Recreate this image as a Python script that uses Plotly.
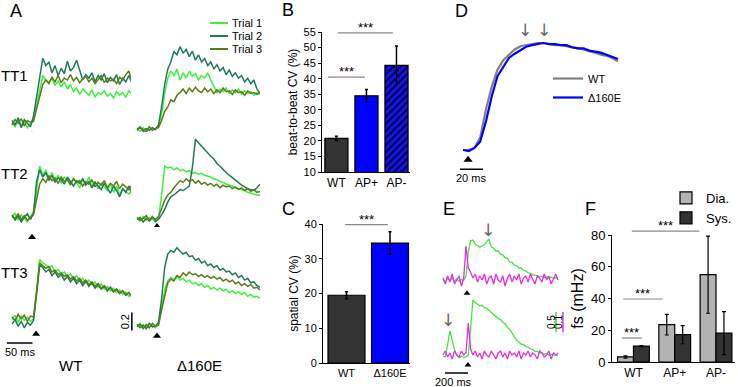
import plotly.graph_objects as go

W, H = 738, 387
FONT = 'Arial, "Liberation Sans", sans-serif'

# ===================== DATA =====================
# Panel A - Ca2+ transients (dF/F) at three t-tubule sites, three trials each
t_A = list(range(0, 241, 6))  # ms
wt_tt1_trial1 = [0.03, -0.02, 0.05, 0.0, 0.04, -0.03, 0.02, 0.06, 0.22, 0.40,
                 0.55, 0.50, 0.47, 0.52, 0.44, 0.49, 0.42, 0.48, 0.40, 0.45,
                 0.37, 0.41, 0.34, 0.40, 0.36, 0.33, 0.39, 0.31, 0.36, 0.34,
                 0.38, 0.32, 0.35, 0.30, 0.37, 0.33, 0.36, 0.31, 0.38, 0.34, 0.40]
wt_tt1_trial2 = [0.05, 0.0, 0.08, -0.03, 0.06, 0.02, -0.02, 0.10, 0.30, 0.55,
                 0.74, 0.66, 0.70, 0.58, 0.66, 0.55, 0.63, 0.57, 0.71, 0.60,
                 0.64, 0.72, 0.60, 0.50, 0.56, 0.52, 0.58, 0.48, 0.55, 0.50,
                 0.57, 0.47, 0.53, 0.49, 0.56, 0.45, 0.52, 0.48, 0.55, 0.46, 0.44]
wt_tt1_trial3 = [0.0, 0.06, 0.02, 0.07, -0.01, 0.05, 0.03, 0.04, 0.18, 0.32,
                 0.45, 0.50, 0.46, 0.53, 0.48, 0.55, 0.47, 0.52, 0.50, 0.56,
                 0.49, 0.53, 0.47, 0.51, 0.54, 0.48, 0.52, 0.46, 0.50, 0.55,
                 0.47, 0.52, 0.49, 0.51, 0.46, 0.53, 0.50, 0.56, 0.60, 0.48, 0.45]
mut_tt1_trial1 = [-0.04, -0.07, -0.03, -0.06, -0.02, -0.05, -0.04, -0.01, 0.12, 0.35,
                  0.52, 0.60, 0.55, 0.62, 0.50, 0.58, 0.52, 0.60, 0.54, 0.57,
                  0.50, 0.55, 0.52, 0.58, 0.50, 0.42, 0.36, 0.40, 0.37, 0.41,
                  0.35, 0.39, 0.36, 0.40, 0.34, 0.38, 0.35, 0.37, 0.33, 0.36, 0.34]
mut_tt1_trial2 = [-0.05, -0.02, -0.07, -0.04, -0.06, -0.03, -0.05, 0.0, 0.20, 0.45,
                  0.62, 0.70, 0.82, 0.78, 0.87, 0.80, 0.84, 0.76, 0.82, 0.72,
                  0.78, 0.70, 0.74, 0.66, 0.70, 0.62, 0.67, 0.60, 0.64, 0.56,
                  0.61, 0.54, 0.58, 0.52, 0.55, 0.48, 0.52, 0.46, 0.50, 0.40, 0.35]
mut_tt1_trial3 = [-0.06, -0.03, -0.05, -0.08, -0.02, -0.06, -0.04, -0.03, 0.05, 0.15,
                  0.20, 0.28, 0.26, 0.33, 0.36, 0.40, 0.35, 0.41, 0.37, 0.42,
                  0.38, 0.36, 0.41, 0.37, 0.40, 0.35, 0.39, 0.36, 0.41, 0.37,
                  0.38, 0.34, 0.39, 0.36, 0.37, 0.33, 0.38, 0.35, 0.36, 0.34, 0.36]
wt_tt2_trial1 = [0.05, 0.10, 0.02, 0.08, 0.04, 0.0, 0.06, 0.12, 0.35, 0.62,
                 0.52, 0.58, 0.48, 0.55, 0.45, 0.52, 0.43, 0.50, 0.46, 0.41,
                 0.49, 0.44, 0.38, 0.47, 0.42, 0.50, 0.40, 0.45, 0.37, 0.43,
                 0.39, 0.35, 0.42, 0.33, 0.40, 0.30, 0.37, 0.34, 0.31, 0.36, 0.33]
wt_tt2_trial2 = [0.08, 0.02, 0.07, 0.0, 0.05, 0.09, 0.03, 0.10, 0.45, 0.58,
                 0.50, 0.55, 0.46, 0.52, 0.44, 0.49, 0.47, 0.42, 0.50, 0.45,
                 0.40, 0.46, 0.43, 0.48, 0.41, 0.45, 0.38, 0.44, 0.40, 0.36,
                 0.43, 0.38, 0.32, 0.40, 0.35, 0.28, 0.37, 0.33, 0.40, 0.31, 0.35]
wt_tt2_trial3 = [0.06, 0.04, 0.09, 0.03, 0.07, 0.02, 0.05, 0.08, 0.25, 0.42,
                 0.48, 0.44, 0.51, 0.46, 0.49, 0.43, 0.50, 0.45, 0.47, 0.42,
                 0.48, 0.44, 0.46, 0.40, 0.45, 0.42, 0.47, 0.39, 0.44, 0.41,
                 0.46, 0.38, 0.43, 0.40, 0.45, 0.37, 0.42, 0.39, 0.36, 0.41, 0.38]
mut_tt2_trial1 = [0.04, 0.01, 0.06, 0.02, 0.05, 0.03, 0.0, 0.04, 0.30, 0.62,
                  0.60, 0.61, 0.58, 0.60, 0.57, 0.58, 0.56, 0.57, 0.54, 0.55,
                  0.53, 0.54, 0.52, 0.51, 0.50, 0.48, 0.47, 0.45, 0.44, 0.42,
                  0.41, 0.40, 0.38, 0.37, 0.36, 0.35, 0.33, 0.32, 0.31, 0.30, 0.30]
mut_tt2_trial2 = [0.03, 0.05, 0.0, 0.04, 0.02, 0.06, 0.01, 0.03, 0.08, 0.14,
                  0.22, 0.28, 0.30, 0.33, 0.36, 0.35, 0.38, 0.40, 0.60, 0.92,
                  0.88, 0.84, 0.80, 0.77, 0.73, 0.70, 0.65, 0.62, 0.58, 0.55,
                  0.52, 0.49, 0.47, 0.44, 0.41, 0.39, 0.37, 0.36, 0.35, 0.38, 0.42]
mut_tt2_trial3 = [0.05, 0.02, 0.04, 0.07, 0.01, 0.05, 0.03, 0.06, 0.15, 0.24,
                  0.30, 0.33, 0.38, 0.42, 0.46, 0.44, 0.48, 0.45, 0.47, 0.43,
                  0.46, 0.42, 0.44, 0.41, 0.43, 0.40, 0.42, 0.38, 0.41, 0.39,
                  0.40, 0.37, 0.39, 0.36, 0.38, 0.35, 0.37, 0.34, 0.36, 0.33, 0.34]
wt_tt3_trial1 = [-0.03, 0.02, -0.06, 0.01, -0.04, 0.0, -0.05, -0.02, 0.30, 0.64,
                 0.60, 0.58, 0.55, 0.57, 0.50, 0.53, 0.48, 0.50, 0.45, 0.48,
                 0.42, 0.46, 0.40, 0.43, 0.38, 0.41, 0.36, 0.39, 0.33, 0.37,
                 0.31, 0.34, 0.29, 0.32, 0.27, 0.30, 0.25, 0.28, 0.23, 0.25, 0.21]
wt_tt3_trial2 = [-0.08, -0.03, -0.10, -0.05, -0.12, -0.06, -0.09, -0.04, 0.25, 0.58,
                 0.55, 0.50, 0.53, 0.46, 0.50, 0.44, 0.47, 0.41, 0.45, 0.39,
                 0.43, 0.37, 0.41, 0.35, 0.40, 0.34, 0.38, 0.32, 0.36, 0.31,
                 0.34, 0.29, 0.33, 0.28, 0.31, 0.26, 0.29, 0.24, 0.27, 0.22, 0.24]
wt_tt3_trial3 = [0.0, -0.04, 0.03, -0.02, 0.02, -0.05, 0.01, 0.0, 0.28, 0.60,
                 0.57, 0.54, 0.56, 0.50, 0.52, 0.47, 0.49, 0.45, 0.47, 0.42,
                 0.45, 0.40, 0.43, 0.38, 0.41, 0.36, 0.39, 0.34, 0.37, 0.32,
                 0.35, 0.30, 0.33, 0.28, 0.31, 0.27, 0.29, 0.25, 0.27, 0.23, 0.24]
mut_tt3_trial1 = [-0.10, -0.07, -0.12, -0.08, -0.11, -0.09, -0.12, -0.08, 0.10, 0.30,
                  0.40, 0.44, 0.42, 0.45, 0.41, 0.43, 0.39, 0.41, 0.37, 0.38,
                  0.35, 0.37, 0.33, 0.35, 0.31, 0.33, 0.30, 0.32, 0.29, 0.31,
                  0.27, 0.29, 0.26, 0.28, 0.25, 0.27, 0.23, 0.25, 0.22, 0.23, 0.21]
mut_tt3_trial2 = [-0.08, -0.12, -0.09, -0.13, -0.07, -0.11, -0.10, -0.06, 0.20, 0.55,
                  0.70, 0.74, 0.72, 0.77, 0.73, 0.70, 0.72, 0.67, 0.68, 0.63,
                  0.65, 0.60, 0.62, 0.57, 0.59, 0.55, 0.57, 0.52, 0.54, 0.50,
                  0.51, 0.47, 0.49, 0.44, 0.46, 0.41, 0.43, 0.38, 0.39, 0.35, 0.33]
mut_tt3_trial3 = [-0.11, -0.08, -0.13, -0.09, -0.12, -0.07, -0.10, -0.09, 0.08, 0.25,
                  0.38, 0.42, 0.40, 0.46, 0.44, 0.49, 0.46, 0.50, 0.47, 0.48,
                  0.45, 0.47, 0.44, 0.46, 0.43, 0.45, 0.42, 0.44, 0.40, 0.42,
                  0.39, 0.41, 0.37, 0.39, 0.35, 0.37, 0.34, 0.36, 0.32, 0.33, 0.30]
stim_A_t = [39, 39, 39, 39, 47, 39]
stim_A_y = [-0.11, -0.14, -0.17, -0.05, -0.19, -0.21]
trial_names = ['Trial 1', 'Trial 2', 'Trial 3']
row_labels = ['TT1', 'TT2', 'TT3']
col_labels = ['WT', 'Δ160E']

# Panel B - beat-to-beat CV (%)
b_cats = ['WT', 'AP+', 'AP-']
b_vals = [20.8, 34.5, 44.3]
b_err = [0.7, 2.0, 6.2]
b_ticks = [10, 15, 20, 25, 30, 35, 40, 45, 50, 55]

# Panel C - spatial CV (%)
c_cats = ['WT', 'Δ160E']
c_vals = [19.5, 34.5]
c_err = [1.0, 3.3]
c_ticks = [0, 10, 20, 30, 40]

# Panel D - normalised averaged transients
t_D = list(range(0, 136, 5))  # ms
d_wt = [0.0, 0.0, 0.02, 0.12, 0.38, 0.59, 0.75, 0.84, 0.89, 0.94,
        0.97, 0.98, 0.99, 1.0, 1.0, 0.99, 0.98, 0.98, 0.97, 0.96,
        0.95, 0.94, 0.92, 0.91, 0.89, 0.88, 0.86, 0.83]
d_mut = [0.0, -0.01, 0.02, 0.08, 0.27, 0.50, 0.69, 0.78, 0.86, 0.90,
         0.935, 0.965, 0.98, 0.99, 1.0, 0.99, 0.99, 0.98, 0.98, 0.96,
         0.95, 0.95, 0.93, 0.92, 0.91, 0.89, 0.87, 0.85]
d_names = ['WT', 'Δ160E']
d_stim_t = [4.4]
d_arrow_t = [54, 70.6]

# Panel E - Ca2+ (green, dF/F) and membrane potential (magenta)
t_E = list(range(0, 1001, 20))  # ms
e_top_green = [0.02, -0.05, 0.04, -0.02, 0.05, -0.03, 0.03, -0.04, 0.02, -0.01,
               0.10, 0.70, 0.98, 1.00, 0.90, 0.86, 0.82, 0.85, 0.88, 0.96,
               1.02, 0.82, 0.80, 0.72, 0.73, 0.64, 0.63, 0.55, 0.54, 0.45,
               0.44, 0.37, 0.36, 0.30, 0.30, 0.24, 0.23, 0.18, 0.17, 0.13,
               0.12, 0.11, 0.08, 0.09, 0.06, 0.08, 0.05, 0.07, 0.04, 0.06,
               0.05]
e_top_mag = [0.01, -0.02, 0.02, -0.01, 0.03, -0.02, 0.00, 0.02, -0.03, 0.01,
             0.17, 0.06, 0.04, 0.01, 0.03, -0.01, 0.02, 0.00, 0.03, -0.02,
             0.01, 0.02, -0.02, 0.03, 0.00, -0.01, 0.02, -0.03, 0.01, 0.03,
             -0.01, 0.02, 0.00, 0.03, -0.02, 0.01, 0.02, -0.01, 0.03, 0.00,
             -0.02, 0.02, 0.01, -0.01, 0.03, 0.00, 0.02, -0.02, 0.01, 0.03,
             0.00]
e_bot_green = [0.02, 0.0, 0.30, 0.65, 0.42, 0.18, 0.05, -0.02, 0.02, -0.01,
               0.01, 0.05, 0.70, 1.43, 1.36, 1.33, 1.28, 1.29, 1.24, 1.22,
               1.17, 1.13, 1.06, 1.03, 0.96, 0.94, 0.87, 0.83, 0.74, 0.69,
               0.58, 0.51, 0.42, 0.38, 0.32, 0.31, 0.26, 0.25, 0.20, 0.19,
               0.14, 0.14, 0.10, 0.11, 0.07, 0.09, 0.05, 0.07, 0.04, 0.06,
               0.03]
e_bot_mag = [0.01, 0.03, 0.00, 0.02, -0.01, 0.03, 0.01, 0.00, 0.03, 0.01,
             0.02, 0.17, 0.04, 0.01, 0.03, 0.00, 0.02, -0.01, 0.03, 0.01,
             0.00, 0.03, 0.01, -0.01, 0.02, 0.03, 0.00, 0.02, -0.01, 0.03,
             0.01, 0.02, 0.00, 0.03, -0.01, 0.02, 0.01, 0.03, 0.00, 0.02,
             0.01, -0.01, 0.03, 0.02, 0.00, 0.01, 0.03, -0.01, 0.02, 0.01,
             0.02]
e_stim_t = [209, 217]
e_arrow_t = [391, 43]

# Panel F - Ca2+ spark frequency (mHz)
f_cats = ['WT', 'AP+', 'AP-']
f_dia = [3.2, 23.5, 55.0]
f_dia_err = [0.7, 6.5, 24.3]
f_sys = [10.0, 17.2, 18.2]
f_sys_err = [0.4, 5.7, 13.5]
f_ticks = [0, 20, 40, 60, 80]

# ===================== FIGURE =====================
def xd(a, b):
    return [a / W, b / W]


def yd(top, bottom):
    return [1 - bottom / H, 1 - top / H]


def ids(n):
    s = '' if n == 1 else str(n)
    return 'x' + s, 'y' + s, 'xaxis' + s, 'yaxis' + s


def hidden(dom, rng, anchor):
    return dict(domain=dom, range=rng, visible=False, anchor=anchor, fixedrange=True)


fig = go.Figure()
axes = {}
shapes = []
annots = []
BLACK = 'black'
SIG = '#8a8a8a'
ARROW = '#666666'
ARROW_FONT = 'DejaVu Sans'

# ---------- Panel A ----------
trial_colors = ['#3cf03c', '#1f7a5c', '#5b7b17']
A_sets = [
    (wt_tt1_trial1, wt_tt1_trial2, wt_tt1_trial3),
    (mut_tt1_trial1, mut_tt1_trial2, mut_tt1_trial3),
    (wt_tt2_trial1, wt_tt2_trial2, wt_tt2_trial3),
    (mut_tt2_trial1, mut_tt2_trial2, mut_tt2_trial3),
    (wt_tt3_trial1, wt_tt3_trial2, wt_tt3_trial3),
    (mut_tt3_trial1, mut_tt3_trial2, mut_tt3_trial3),
]
col_px = [(5.85, 135.0), (130.85, 260.0)]
row_px = [(35.0, 156.5), (132.0, 253.5), (227.0, 348.5)]
for k, trials in enumerate(A_sets):
    xa, ya, xk, yk = ids(k + 1)
    r, c = divmod(k, 2)
    axes[xk] = hidden(xd(*col_px[c]), [-12, 240], ya)
    axes[yk] = hidden(yd(*row_px[r]), [-0.35, 1.0], xa)
    for j, ys in enumerate(trials):
        fig.add_trace(go.Scatter(x=t_A, y=ys, mode='lines', name=trial_names[j],
                                 line=dict(color=trial_colors[j], width=1.5),
                                 xaxis=xa, yaxis=ya, showlegend=False, hoverinfo='skip'))
    fig.add_trace(go.Scatter(x=[stim_A_t[k]], y=[stim_A_y[k]], mode='markers',
                             marker=dict(symbol='triangle-up', size=7, color=BLACK),
                             cliponaxis=False, xaxis=xa, yaxis=ya, showlegend=False, hoverinfo='skip'))

# manual legend for panel A
for j, name in enumerate(trial_names):
    ypx = 23 + 13 * j
    shapes.append(dict(type='line', xref='paper', yref='paper', x0=210 / W, x1=228 / W,
                       y0=1 - ypx / H, y1=1 - ypx / H, line=dict(color=trial_colors[j], width=2)))
    annots.append(dict(text=name, xref='paper', yref='paper', x=230 / W, y=1 - ypx / H,
                       xanchor='left', yanchor='middle', showarrow=False, font=dict(size=11)))
for r, lab in enumerate(row_labels):
    annots.append(dict(text=lab, xref='paper', yref='paper', x=14 / W, y=1 - (75 + 98.5 * r) / H,
                       xanchor='center', yanchor='middle', showarrow=False, font=dict(size=15)))
for c, lab in enumerate(col_labels):
    annots.append(dict(text=lab, xref='paper', yref='paper', x=(70 + 130 * c) / W, y=1 - 365 / H,
                       xanchor='center', yanchor='middle', showarrow=False, font=dict(size=15)))
# scale bars for A (50 ms, 0.2 dF/F)
shapes.append(dict(type='line', xref='x5', yref='y5', x0=-10, x1=40, y0=-0.29, y1=-0.29,
                   line=dict(color=BLACK, width=1.5)))
annots.append(dict(text='50 ms', xref='x5', yref='y5', x=15, y=-0.29, yanchor='top', yshift=-1,
                   showarrow=False, font=dict(size=11)))
shapes.append(dict(type='line', xref='x6', yref='y6', x0=-10, x1=-10, y0=-0.15, y1=0.05,
                   line=dict(color=BLACK, width=1.5)))
annots.append(dict(text='0.2', xref='x6', yref='y6', x=-10, y=-0.05, xshift=-7, textangle=-90,
                   showarrow=False, font=dict(size=11)))

# ---------- Panel B ----------
axis_font = dict(size=11, color=BLACK)
common_y = dict(showline=True, linecolor=BLACK, linewidth=1, ticks='outside', ticklen=3,
                tickcolor=BLACK, showgrid=False, zeroline=False, fixedrange=True)
common_x = dict(showline=True, linecolor=BLACK, linewidth=1, ticks='', showgrid=False,
                zeroline=False, fixedrange=True, type='category')
axes['xaxis7'] = dict(domain=xd(322, 410), range=[-0.48, 2.45], anchor='y7',
                      categoryorder='array', categoryarray=b_cats,
                      tickfont=dict(size=12, color=BLACK), **common_x)
axes['yaxis7'] = dict(domain=yd(32, 172), range=[10, 55], tickvals=b_ticks, anchor='x7',
                      tickfont=axis_font,
                      title=dict(text='beat-to-beat CV (%)', font=dict(size=12, color=BLACK), standoff=3),
                      **common_y)
# solid bars (WT, AP+)
fig.add_trace(go.Bar(x=b_cats[:2], y=b_vals[:2], width=0.77, offset=-0.385,
                     marker=dict(color=['#333333', '#0000ff'], line=dict(color=BLACK, width=1.2)),
                     error_y=dict(type='data', array=b_err[:2], color=BLACK, thickness=1.5, width=1.5),
                     xaxis='x7', yaxis='y7', showlegend=False, hoverinfo='skip'))
# hatched bar (AP-)
fig.add_trace(go.Bar(x=b_cats[2:], y=b_vals[2:], width=0.77, offset=-0.385,
                     marker=dict(color='#00006a', line=dict(color=BLACK, width=1.2),
                                 pattern=dict(shape='/', fillmode='replace', bgcolor='#1818dc',
                                              size=5, solidity=0.45)),
                     error_y=dict(type='data', array=b_err[2:], color=BLACK, thickness=1.5, width=1.5),
                     xaxis='x7', yaxis='y7', showlegend=False, hoverinfo='skip'))
for x0, x1, yv in [(-0.28, 0.95, 40.5), (0.05, 1.88, 54.7)]:
    shapes.append(dict(type='line', xref='x7', yref='y7', x0=x0, x1=x1, y0=yv, y1=yv,
                       line=dict(color=SIG, width=1.2)))
    annots.append(dict(text='***', xref='x7', yref='y7', x=(x0 + x1) / 2, y=yv, yanchor='bottom',
                       yshift=-4, showarrow=False, font=dict(size=13)))

# ---------- Panel C ----------
axes['xaxis8'] = dict(domain=xd(323, 410), range=[-0.54, 1.46], anchor='y8',
                      tickfont=dict(size=11, color=BLACK), **common_x)
axes['yaxis8'] = dict(domain=yd(224, 363), range=[0, 40], tickvals=c_ticks, anchor='x8',
                      tickfont=axis_font,
                      title=dict(text='spatial CV (%)', font=dict(size=12, color=BLACK), standoff=3),
                      **common_y)
fig.add_trace(go.Bar(x=c_cats, y=c_vals, width=0.85,
                     marker=dict(color=['#333333', '#0000ff'], line=dict(color=BLACK, width=1.2)),
                     error_y=dict(type='data', array=c_err, color=BLACK, thickness=1.5, width=1.5),
                     xaxis='x8', yaxis='y8', showlegend=False, hoverinfo='skip'))
shapes.append(dict(type='line', xref='x8', yref='y8', x0=-0.03, x1=0.95, y0=39.8, y1=39.8,
                   line=dict(color=SIG, width=1.2)))
annots.append(dict(text='***', xref='x8', yref='y8', x=0.46, y=39.8, yanchor='bottom', yshift=-4,
                   showarrow=False, font=dict(size=13)))

# ---------- Panel D ----------
axes['xaxis9'] = hidden(xd(457.3, 623.7), [-5, 140], 'y9')
axes['yaxis9'] = hidden(yd(16.25, 182.1), [-0.3, 1.25], 'x9')
for ys, col, nm in [(d_wt, '#808080', d_names[0]), (d_mut, '#0000ff', d_names[1])]:
    fig.add_trace(go.Scatter(x=t_D, y=ys, mode='lines', name=nm, line=dict(color=col, width=2.2),
                             xaxis='x9', yaxis='y9', legend='legend', hoverinfo='skip'))
fig.add_trace(go.Scatter(x=d_stim_t, y=[-0.09], mode='markers',
                         marker=dict(symbol='triangle-up', size=8, color=BLACK), cliponaxis=False,
                         xaxis='x9', yaxis='y9', showlegend=False, hoverinfo='skip'))
shapes.append(dict(type='line', xref='x9', yref='y9', x0=-2.6, x1=17.4, y0=-0.18, y1=-0.18,
                   line=dict(color=BLACK, width=1.5)))
annots.append(dict(text='20 ms', xref='x9', yref='y9', x=6.5, y=-0.18, yanchor='top', yshift=-1,
                   showarrow=False, font=dict(size=11)))
for tx in d_arrow_t:
    annots.append(dict(text='↓', xref='x9', yref='y9', x=tx, y=1.12, showarrow=False,
                       font=dict(size=17, color=ARROW, family=ARROW_FONT)))

# ---------- Panel E ----------
GREEN, MAG = '#3ee83e', '#e62ee6'
axes['xaxis10'] = hidden(xd(440.7, 564.9), [-20, 1060], 'y10')
axes['yaxis10'] = hidden(yd(228, 296), [-0.4, 1.3], 'x10')
axes['yaxis11'] = dict(range=[-0.08, 0.26], overlaying='y10', anchor='x10', visible=False, fixedrange=True)
axes['xaxis12'] = hidden(xd(440.7, 564.9), [-20, 1060], 'y12')
axes['yaxis12'] = hidden(yd(295, 377), [-0.5, 1.55], 'x12')
axes['yaxis13'] = dict(range=[-0.1, 0.31], overlaying='y12', anchor='x12', visible=False, fixedrange=True)
for xa, yg, ym, g, m in [('x10', 'y10', 'y11', e_top_green, e_top_mag),
                         ('x12', 'y12', 'y13', e_bot_green, e_bot_mag)]:
    fig.add_trace(go.Scatter(x=t_E, y=g, mode='lines', line=dict(color=GREEN, width=1.3),
                             xaxis=xa, yaxis=yg, showlegend=False, hoverinfo='skip'))
    fig.add_trace(go.Scatter(x=t_E, y=m, mode='lines', line=dict(color=MAG, width=1.3),
                             xaxis=xa, yaxis=ym, showlegend=False, hoverinfo='skip'))
fig.add_trace(go.Scatter(x=[e_stim_t[0]], y=[-0.33], mode='markers',
                         marker=dict(symbol='triangle-up', size=6, color=BLACK), cliponaxis=False,
                         xaxis='x10', yaxis='y10', showlegend=False, hoverinfo='skip'))
fig.add_trace(go.Scatter(x=[e_stim_t[1]], y=[-0.2], mode='markers',
                         marker=dict(symbol='triangle-up', size=6, color=BLACK), cliponaxis=False,
                         xaxis='x12', yaxis='y12', showlegend=False, hoverinfo='skip'))
annots.append(dict(text='↓', xref='x10', yref='y10', x=e_arrow_t[0], y=1.25, showarrow=False,
                   font=dict(size=17, color=ARROW, family=ARROW_FONT)))
annots.append(dict(text='↓', xref='x12', yref='y12', x=e_arrow_t[1], y=0.93, showarrow=False,
                   font=dict(size=17, color=ARROW, family=ARROW_FONT)))
shapes.append(dict(type='line', xref='x12', yref='y12', x0=17, x1=217, y0=-0.4, y1=-0.4,
                   line=dict(color=BLACK, width=1.5)))
annots.append(dict(text='200 ms', xref='x12', yref='y12', x=90, y=-0.4, yanchor='top', yshift=-1,
                   showarrow=False, font=dict(size=11)))
shapes.append(dict(type='line', xref='x12', yref='y12', x0=983, x1=983, y0=0.625, y1=1.125,
                   line=dict(color=GREEN, width=1.5)))
shapes.append(dict(type='line', xref='x12', yref='y13', x0=1043, x1=1043, y0=0.125, y1=0.225,
                   line=dict(color=MAG, width=1.5)))
annots.append(dict(text='0.5', xref='x12', yref='y12', x=983, y=0.875, xshift=-5, textangle=-90,
                   showarrow=False, font=dict(size=10)))
annots.append(dict(text='0.1', xref='x12', yref='y12', x=1043, y=0.875, xshift=-5, textangle=-90,
                   showarrow=False, font=dict(size=10)))

# ---------- Panel F ----------
f_ydom = yd(235, 362)
axes['xaxis14'] = dict(domain=xd(612, 735), range=[-0.52, 2.46], anchor='y14',
                       tickfont=dict(size=12, color=BLACK), **common_x)
axes['yaxis14'] = dict(domain=f_ydom, range=[0, 80], tickvals=f_ticks, anchor='x14',
                       tickfont=dict(size=13, color=BLACK),
                       title=dict(text='fs (mHz)', font=dict(size=16, color=BLACK), standoff=3),
                       **common_y)
fig.add_trace(go.Bar(x=f_cats, y=f_dia, name='Dia.', marker=dict(color='#b3b3b3', line=dict(color=BLACK, width=1.2)),
                     error_y=dict(type='data', array=f_dia_err, color=BLACK, thickness=1.2, width=2),
                     xaxis='x14', yaxis='y14', legend='legend2', hoverinfo='skip'))
fig.add_trace(go.Bar(x=f_cats, y=f_sys, name='Sys.', marker=dict(color='#333333', line=dict(color=BLACK, width=1.2)),
                     error_y=dict(type='data', array=f_sys_err, color=BLACK, thickness=1.2, width=2),
                     xaxis='x14', yaxis='y14', legend='legend2', hoverinfo='skip'))


def f_paper(v):
    return f_ydom[0] + (v - 0) / 80 * (f_ydom[1] - f_ydom[0])


for x0, x1, yv in [(-0.04, 1.6, 82.5), (-0.25, 0.71, 39.7), (-0.28, 0.2, 15.1)]:
    shapes.append(dict(type='line', xref='x14', yref='paper', x0=x0, x1=x1, y0=f_paper(yv), y1=f_paper(yv),
                       line=dict(color=SIG, width=1.2)))
    annots.append(dict(text='***', xref='x14', yref='paper', x=(x0 + x1) / 2, y=f_paper(yv), yanchor='bottom',
                       yshift=-4, showarrow=False, font=dict(size=13)))

# ---------- panel letters ----------
for letter, px, py in [('A', 16, 11), ('B', 288, 10), ('C', 288, 209), ('D', 461, 11), ('E', 449, 209), ('F', 590, 209)]:
    annots.append(dict(text=letter, xref='paper', yref='paper', x=px / W, y=1 - py / H, xanchor='center',
                       yanchor='middle', showarrow=False, font=dict(size=18)))

fig.update_layout(
    width=W, height=H, autosize=False,
    margin=dict(l=0, r=0, t=0, b=0, pad=0, autoexpand=False),
    paper_bgcolor='white', plot_bgcolor='white',
    font=dict(family=FONT, color=BLACK),
    barmode='group', bargap=0.23, bargroupgap=0,
    showlegend=True,
    legend=dict(x=548 / W, y=1 - 64 / H, xanchor='left', yanchor='top', bgcolor='rgba(0,0,0,0)',
                font=dict(size=11, color=BLACK), tracegroupgap=0),
    legend2=dict(x=666 / W, y=1 - 183 / H, xanchor='left', yanchor='top', bgcolor='rgba(0,0,0,0)',
                 font=dict(size=13, color=BLACK), tracegroupgap=0),
    shapes=shapes, annotations=annots,
    **axes,
)

fig.write_html('out.html', config={'displayModeBar': False},
               post_script="document.body.style.margin='0';document.body.style.padding='0';")
